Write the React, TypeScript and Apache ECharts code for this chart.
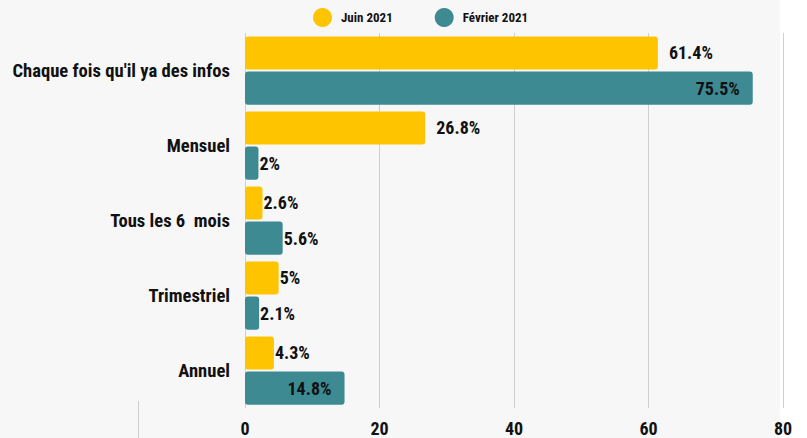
import React, { useEffect, useRef } from "react";
import * as echarts from "echarts";

const categories = [
  "Chaque fois qu'il ya des infos",
  "Mensuel",
  "Tous les 6  mois",
  "Trimestriel",
  "Annuel",
];
const juin2021 = [61.4, 26.8, 2.6, 5, 4.3];
const fevrier2021 = [75.5, 2, 5.6, 2.1, 14.8];
const seriesNames = ["Juin 2021", "Février 2021"];
const xTicks = [0, 20, 40, 60, 80];

const FONT = "'Roboto Condensed', 'Liberation Sans Narrow', 'DejaVu Sans Condensed', Roboto, sans-serif";
const YELLOW = "#FFC400";
const TEAL = "#3D8A93";

export default function App() {
  const ref = useRef<HTMLDivElement>(null);
  useEffect(() => {
    if (!ref.current) return;
    const chart = echarts.init(ref.current, undefined, { renderer: "svg" });
    const labelFmt = (p: any) => `${p.value}%`;
    const mkData = (vals: number[], insideThreshold: number) =>
      vals.map((v) => ({
        value: v,
        label:
          v >= insideThreshold
            ? { position: "insideRight", distance: 13 }
            : { position: "right", distance: v > 20 ? 11 : 1 },
      }));
    const labelStyle = {
      show: true,
      formatter: labelFmt,
      fontFamily: FONT,
      fontWeight: "bold",
      fontSize: 18,
      color: "#111",
    };
    chart.setOption({
      animation: false,
      backgroundColor: "transparent",
      textStyle: { fontFamily: FONT },
      legend: {
        top: 3,
        left: 308,
        icon: "circle",
        itemWidth: 19,
        itemHeight: 19,
        itemGap: 42,
        textStyle: {
          fontFamily: FONT,
          fontWeight: "bold",
          fontSize: 13,
          color: "#111",
          padding: [0, 0, 0, 4],
        },
        data: seriesNames,
      },
      grid: { left: 245, right: 24, top: 33, bottom: 30, containLabel: false },
      xAxis: {
        type: "value",
        min: 0,
        max: 80,
        interval: 20,
        axisLine: { show: false },
        axisTick: { show: false },
        splitLine: { show: true, lineStyle: { color: "#cfcfcf", width: 1 } },
        axisLabel: {
          fontFamily: FONT,
          fontWeight: "bold",
          fontSize: 18,
          color: "#111",
          margin: 11,
          formatter: (v: number) => (xTicks.includes(v) ? String(v) : ""),
        },
      },
      yAxis: {
        type: "category",
        inverse: true,
        data: categories,
        axisLine: { show: false },
        axisTick: { show: false },
        axisLabel: {
          fontFamily: FONT,
          fontWeight: "bold",
          fontSize: 18.6,
          color: "#111",
          margin: 15,
        },
      },
      graphic: [
        {
          type: "line",
          shape: { x1: 138.5, y1: 401, x2: 138.5, y2: 438 },
          style: { stroke: "#cfcfcf", lineWidth: 1 },
        },
      ],
      series: [
        {
          name: seriesNames[0],
          type: "bar",
          data: mkData(juin2021, 1000),
          itemStyle: { color: YELLOW, borderRadius: 3 },
          barGap: "6%",
          barCategoryGap: "9%",
          label: labelStyle,
        },
        {
          name: seriesNames[1],
          type: "bar",
          data: mkData(fevrier2021, 10),
          itemStyle: { color: TEAL, borderRadius: 3 },
          barGap: "6%",
          barCategoryGap: "9%",
          label: labelStyle,
        },
      ],
      color: [YELLOW, TEAL],
    });
    return () => chart.dispose();
  }, []);
  return (
    <div
      style={{
        position: "absolute",
        left: 0,
        top: 0,
        width: 807,
        height: 438,
        background: "linear-gradient(to right, #f7f7f7 0, #f7f7f7 780px, #ffffff 780px)",
      }}
    >
      <div ref={ref} style={{ width: 807, height: 438 }} />
    </div>
  );
}
